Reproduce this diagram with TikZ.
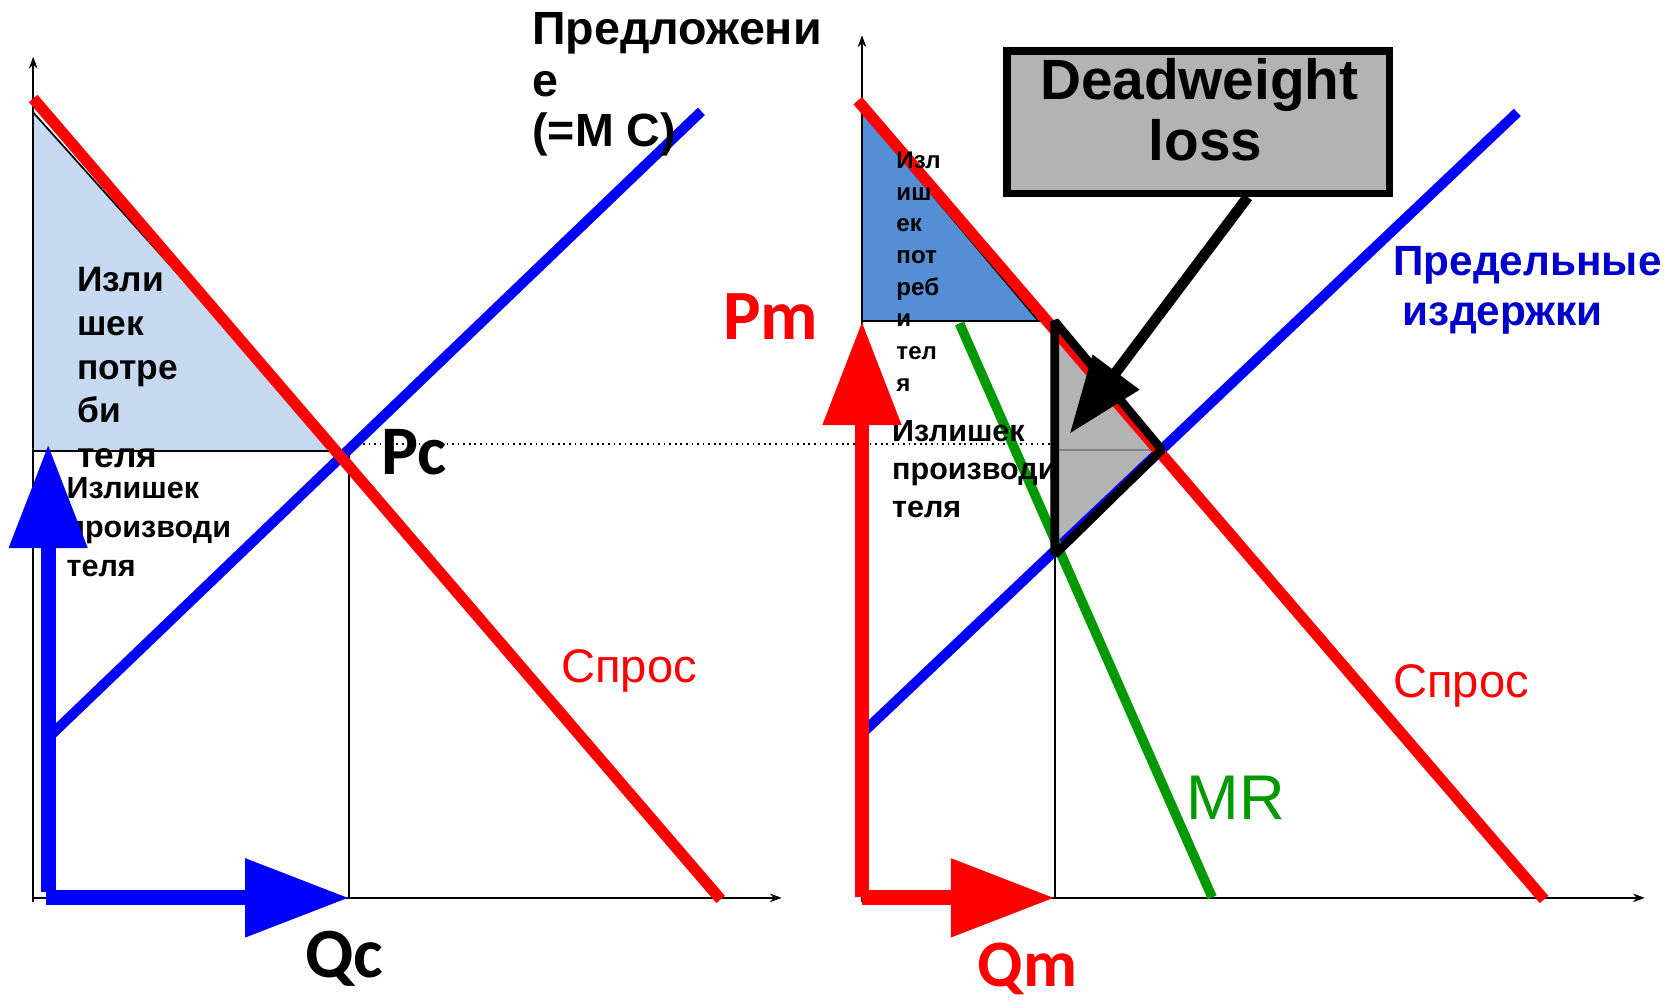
\documentclass[tikz,border=0pt]{standalone}
\usepackage{fontspec}
\setmainfont{Liberation Sans}
\newfontfamily\calfont{Carlito}
\usetikzlibrary{arrows.meta,calc}
\definecolor{cred}{HTML}{FF0000}
\definecolor{cblue}{HTML}{0000FF}
\definecolor{cgreen}{HTML}{009900}
\definecolor{lightcs}{HTML}{C6D9F0}
\definecolor{midcs}{HTML}{558ED5}
\definecolor{dwgray}{HTML}{B3B3B3}
\definecolor{darkline}{HTML}{808080}
\definecolor{textblue}{HTML}{0000CC}
\begin{document}
\begin{tikzpicture}[x=1pt,y=-1pt,
  lbl/.style={inner sep=0pt,anchor=base west},
  csbig/.style={lbl,font=\bfseries\fontsize{33}{40}\selectfont},
  cssmall/.style={lbl,font=\bfseries\fontsize{22.5}{27}\selectfont},
  pstext/.style={lbl,font=\bfseries\fontsize{28.5}{34}\selectfont},
  supplytext/.style={lbl,font=\bfseries\fontsize{43.5}{48}\selectfont},
  bigletter/.style={lbl,font=\calfont\bfseries\fontsize{#1}{#1}\selectfont},
  curvelabel/.style={lbl,font=\fontsize{#1}{#1}\selectfont},
  thinline/.style={line width=1.6pt,black},
  axis/.style={line width=1.5pt,black,-{Stealth[length=11pt,width=8pt]}},
  demand/.style={line width=10.5pt,cred},
  supply/.style={line width=9.5pt,cblue},
  mr/.style={line width=9pt,cgreen},
  bigarrow/.style={line width=14pt,-{Triangle[length=97pt,width=70pt]}},
]
\useasboundingbox (0,0) rectangle (1568,936);

% ---------- consumer surplus areas ----------
\fill[lightcs] (31,105) -- (31,421) -- (314,421) -- cycle;
\draw[thinline] (31,105) -- (314,421);
\fill[midcs] (805,104) -- (805,300) -- (970,300) -- cycle;
\draw[thinline] (805,104) -- (970,300);

% ---------- axes ----------
\draw[axis] (31,842) -- (31,53);
\draw[axis] (31,838.5) -- (730,838.5);
\draw[axis] (805,842) -- (805,33);
\draw[axis] (805,838.5) -- (1536,838.5);

% ---------- reference lines ----------
\draw[thinline] (31,421) -- (326,421) -- (326,838);
\draw[thinline] (805,300) -- (985,300) -- (985,838);
\draw[line width=1.6pt,black,dash pattern=on 1.6pt off 3.6pt] (339,414.5) -- (982,414.5);

% ---------- deadweight loss area ----------
\coordinate (dwtop) at (985,300);
\coordinate (dwright) at (1085,420);
\coordinate (dwbottom) at (985,518);
\fill[dwgray] (dwtop) -- (dwright) -- (dwbottom) -- cycle;
\draw[line width=2pt,darkline] (985,420) -- (1085,420);

% ---------- curves ----------
\draw[supply] (47,687) -- (655,104);
\draw[demand] (31,92) -- (673,840);
\draw[supply] (806,684) -- (1417,105);
\draw[demand] (801,94) -- (1442,840);
\draw[mr] (896,302) -- (1132,838);

\draw[line width=8pt,black,line join=bevel] (dwtop) -- (dwright) -- (dwbottom) -- cycle;

% ---------- texts ----------
\node[csbig] (cs1) at (72,272) {Изли};
\node[csbig] (cs2) at (72,313) {шек};
\node[csbig] (cs3) at (72,354) {потре};
\node[csbig] (cs4) at (72,395) {би};
\node[csbig] (cs5) at (72,437) {теля};

\node[pstext] (psl1) at (62,466) {Излишек};
\node[pstext] (psl2) at (62,502) {производи};
\node[pstext] (psl3) at (62,538) {теля};

\node[supplytext] (sup1) at (497,42) {Предложени};
\node[supplytext] (sup2) at (497,90) {е};
\node[supplytext] (sup3) at (497,137) {(=М С)};

\node[bigletter=65] (pc) at (356,443) {Pc};
\node[bigletter=66] (qc) at (285,913) {Qc};
\node[bigletter=66,text=cred] (pm) at (675,317) {Pm};
\node[bigletter=62,text=cred] (qm) at (913,921) {Qm};

\node[curvelabel=44,text=cred] (dleft) at (524,637) {Спрос};
\node[curvelabel=44,text=cred] (dright) at (1301,651) {Спрос};
\node[curvelabel=59,text=cgreen] (mrlabel) at (1108,765) {MR};

\node[lbl,font=\bfseries\fontsize{39.5}{45}\selectfont,text=textblue] (mc1) at (1301,257) {Предельные};
\node[lbl,font=\bfseries\fontsize{39.5}{45}\selectfont,text=textblue] (mc2) at (1310,304) {издержки};

\node[cssmall] (csr1) at (837,157) {Изл};
\node[cssmall] (csr2) at (837,187) {иш};
\node[cssmall] (csr3) at (837,216) {ек};
\node[cssmall] (csr4) at (837,246) {пот};
\node[cssmall] (csr5) at (837,276) {реб};
\node[cssmall] (csr6) at (837,305) {и};
\node[cssmall] (csr7) at (837,336) {тел};
\node[cssmall] (csr8) at (837,366) {я};

\node[pstext] (psr1) at (833,412) {Излишек};
\node[pstext] (psr2) at (833,448) {производи};
\node[pstext] (psr3) at (833,483) {теля};

% ---------- deadweight loss box ----------
\node[draw=black,line width=7pt,fill=dwgray,minimum width=357pt,minimum height=133pt,inner sep=0pt] (dwbox) at (1119,114) {};
\node[inner sep=0pt,anchor=base,font=\bfseries\fontsize{53}{58}\selectfont] (dwt1) at (1120,93) {Deadweight};
\node[inner sep=0pt,anchor=base,font=\bfseries\fontsize{53}{58}\selectfont] (dwt2) at (1126,150) {loss};

\coordinate (dwstart) at ($(dwbox.south west)!0.627!(dwbox.south east)$);
\coordinate (dwtip) at (999,405);
\draw[line width=10pt,black,-{Triangle[length=72pt,width=52pt]}] (dwstart) -- (dwtip);

% ---------- surplus arrows ----------
\draw[bigarrow,cblue] (45,833) -- (45,415);
\draw[bigarrow,cblue] (43,838.5) -- (326,838.5);
\draw[bigarrow,cred] (805,838) -- (805,300);
\draw[bigarrow,cred] (805,838.5) -- (985,838.5);
\end{tikzpicture}
\end{document}
